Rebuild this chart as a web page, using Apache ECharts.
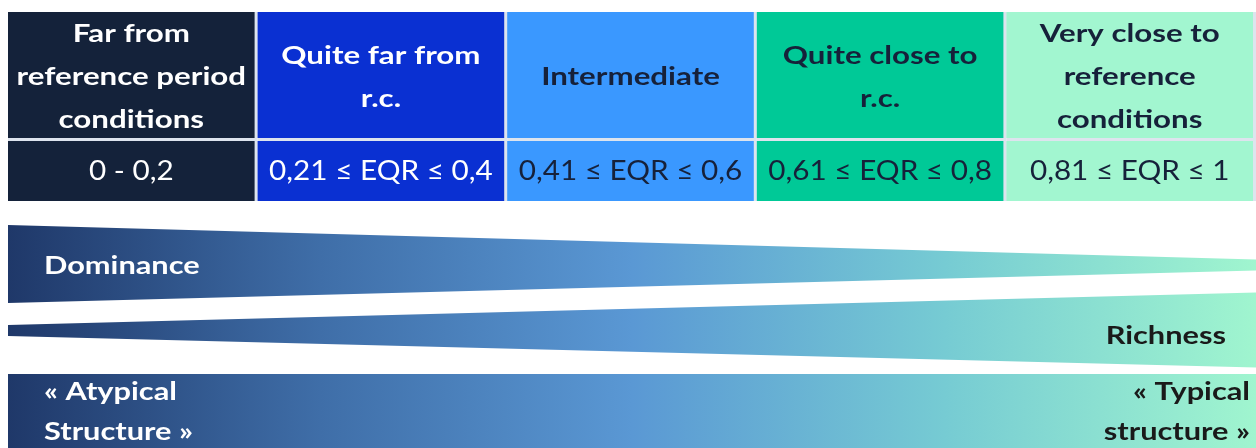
<!DOCTYPE html>
<html>
<head>
<meta charset="utf-8">
<script src="https://cdn.jsdelivr.net/npm/echarts@6/dist/echarts.min.js"></script>
<style>
html,body{margin:0;padding:0;background:#ffffff;}
#chart{width:1256px;height:448px;}
</style>
</head>
<body>
<div id="chart"></div>
<script>
// ---- data ----
const classNames = [
  'Far from\nreference period\nconditions',
  'Quite far from\nr.c.',
  'Intermediate',
  'Quite close to\nr.c.',
  'Very close to\nreference\nconditions'
];
const eqrBounds = [0, 0.2, 0.4, 0.6, 0.8, 1];
const eqrLabels = ['0 - 0,2', '0,21 \u2264 EQR \u2264 0,4', '0,41 \u2264 EQR \u2264 0,6', '0,61 \u2264 EQR \u2264 0,8', '0,81 \u2264 EQR \u2264 1'];
const bandNames = ['Dominance', 'Richness', 'Structure'];
const bandLeftLabels = ['Dominance', '', '\u00ab Atypical\nStructure \u00bb'];
const bandRightLabels = ['', 'Richness', '\u00ab Typical\nstructure \u00bb'];

// ---- styles / layout ----
const cellFill = ['#14223a', '#0a30d2', '#3a98ff', '#00c997', '#a2f6d0'];
const cellText = ['#ffffff', '#ffffff', '#16213a', '#16213a', '#16213a'];
const gapFill = '#dde4ee';
const FONT = 'Lato, "Open Sans", sans-serif';
const headerRow = [12, 138];
const valueRow = [141, 201];
const cellGap = 3;
const headerFont = { size: 25, scaleX: 1.25, lineHeight: 43, dy: 2 };
const valueFont = { size: 27, scaleX: 1.1, dy: 0 };
const bandFont = { size: 25, scaleX: 1.23 };
// band shapes: [yTopAtMin, yTopAtMax, yBottomAtMin, yBottomAtMax]
const bandShape = [
  [225, 259.5, 303, 270.5],
  [325, 292.5, 336, 367.5],
  [374, 374, 460, 460]
];
const bandLeftX = [44, 44, 44];
const bandRightX = [1250, 1226, 1250];
const bandLeftColor = '#ffffff';
const bandRightColor = '#1a1a1a';
const bandLabelY = [[266], [336], [392, 432]];
const gradStops = [
  { offset: 0, color: '#1f3869' },
  { offset: 0.25, color: '#3f6ea8' },
  { offset: 0.5, color: '#5a98d4' },
  { offset: 0.75, color: '#76cbd3' },
  { offset: 1, color: '#a0f5cf' }
];

const chart = echarts.init(document.getElementById('chart'), null, { renderer: 'canvas' });

function tableItem(params, api) {
  const i = api.value(0);
  const x0 = api.coord([eqrBounds[i], 0])[0];
  const xNext = api.coord([eqrBounds[i + 1], 0])[0];
  const x1 = xNext - cellGap;
  const cx = (x0 + x1) / 2;
  const hy0 = api.coord([0, headerRow[0]])[1];
  const hy1 = api.coord([0, headerRow[1]])[1];
  const vy0 = api.coord([0, valueRow[0]])[1];
  const vy1 = api.coord([0, valueRow[1]])[1];
  return {
    type: 'group',
    children: [
      { type: 'rect', shape: { x: x0, y: hy0, width: xNext - x0, height: vy1 - hy0 }, style: { fill: gapFill } },
      { type: 'rect', shape: { x: x0, y: hy0, width: x1 - x0, height: hy1 - hy0 }, style: { fill: cellFill[i] } },
      { type: 'rect', shape: { x: x0, y: vy0, width: x1 - x0, height: vy1 - vy0 }, style: { fill: cellFill[i] } },
      { type: 'text', x: cx, y: (hy0 + hy1) / 2 + headerFont.dy, scaleX: headerFont.scaleX,
        style: { text: classNames[i], x: 0, y: 0, align: 'center', verticalAlign: 'middle',
          fill: cellText[i], font: 'bold ' + headerFont.size + 'px ' + FONT, lineHeight: headerFont.lineHeight } },
      { type: 'text', x: cx, y: (vy0 + vy1) / 2 + valueFont.dy, scaleX: valueFont.scaleX,
        style: { text: eqrLabels[i], x: 0, y: 0, align: 'center', verticalAlign: 'middle',
          fill: cellText[i], font: valueFont.size + 'px ' + FONT } }
    ]
  };
}

function bandItem(params, api) {
  const b = api.value(0);
  const s = bandShape[b];
  const pL = api.coord([0, 0]);
  const pR = api.coord([1, 0]);
  const xl = pL[0], xr = pR[0];
  const y = v => api.coord([0, v])[1];
  const grad = new echarts.graphic.LinearGradient(xl, 0, 1256, 0, gradStops, true);
  const children = [
    { type: 'polygon', shape: { points: [[xl, y(s[0])], [xr, y(s[1])], [xr, y(s[3])], [xl, y(s[2])]] },
      style: { fill: grad } }
  ];
  const ly = bandLabelY[b];
  const lh = ly.length > 1 ? ly[1] - ly[0] : 40;
  const my = (ly[0] + ly[ly.length - 1]) / 2;
  if (bandLeftLabels[b]) {
    children.push({ type: 'text', x: bandLeftX[b], y: y(my), scaleX: bandFont.scaleX,
      style: { text: bandLeftLabels[b], x: 0, y: 0, align: 'left', verticalAlign: 'middle',
        fill: bandLeftColor, font: 'bold ' + bandFont.size + 'px ' + FONT, lineHeight: lh } });
  }
  if (bandRightLabels[b]) {
    children.push({ type: 'text', x: bandRightX[b], y: y(my), scaleX: bandFont.scaleX,
      style: { text: bandRightLabels[b], x: 0, y: 0, align: 'right', verticalAlign: 'middle',
        fill: bandRightColor, font: 'bold ' + bandFont.size + 'px ' + FONT, lineHeight: lh } });
  }
  return { type: 'group', children: children };
}

chart.setOption({
  animation: false,
  backgroundColor: '#ffffff',
  grid: { left: 8, right: -14, top: 0, bottom: 0, containLabel: false },
  xAxis: { type: 'value', min: 0, max: 1, show: false },
  yAxis: { type: 'value', min: 0, max: 448, inverse: true, show: false },
  series: [
    { type: 'custom', name: 'classes', renderItem: tableItem, clip: false,
      data: classNames.map((n, i) => [i]) },
    { type: 'custom', name: 'bands', renderItem: bandItem, clip: false,
      data: bandNames.map((n, i) => [i]) }
  ]
});
</script>
</body>
</html>
